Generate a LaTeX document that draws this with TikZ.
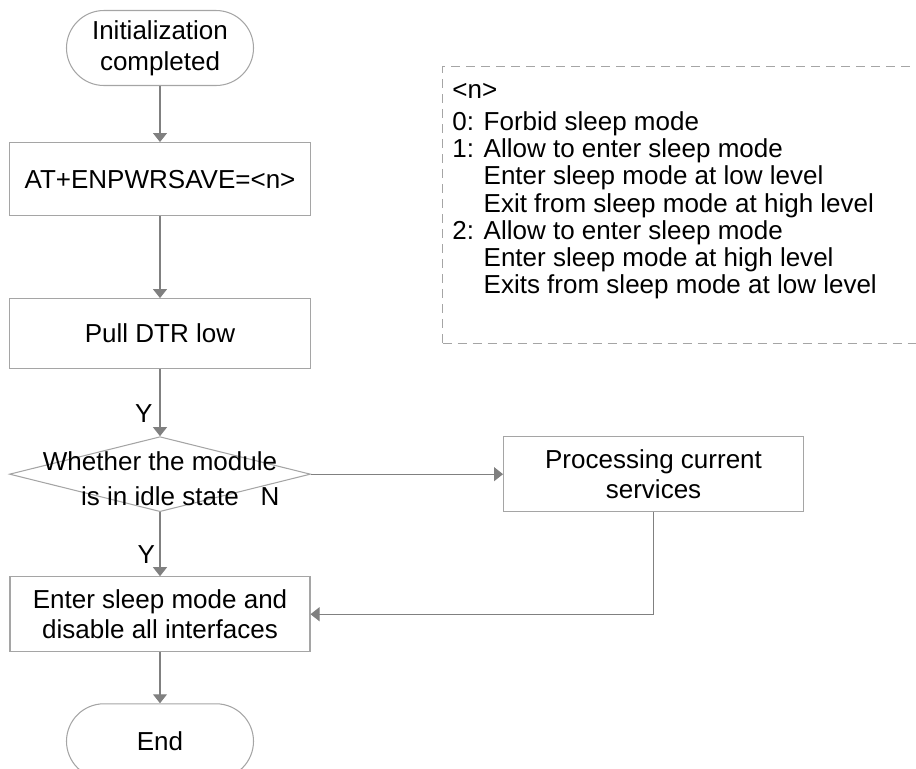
\documentclass[tikz,border=0pt]{standalone}
\usepackage{fontspec}
\setmainfont{Liberation Sans}
\usetikzlibrary{positioning, arrows.meta, shapes.geometric}
\definecolor{flowgray}{RGB}{128,128,128}
\definecolor{edgegray}{RGB}{165,165,165}

\begin{document}
\begin{tikzpicture}[
    font=\fontsize{14.8pt}{17.6pt}\selectfont,
    box/.style={draw=edgegray, line width=0.6pt, rectangle,
                minimum width=6.02cm, minimum height=1.46cm, align=center},
    term/.style={box, rounded corners=0.75cm,
                 minimum width=3.74cm, minimum height=1.5cm},
    decision/.style={draw=edgegray, line width=0.6pt, diamond, inner sep=0pt,
                     minimum width=6.02cm, minimum height=1.5cm},
    arrow/.style={-{Triangle[width=0.28cm, length=0.18cm]}, flowgray, line width=0.6pt},
    yn/.style={text=black, inner sep=4pt},
    note/.style={draw=edgegray, line width=0.6pt, dash pattern=on 0.18cm off 0.12cm},
    notetext/.style={align=left, inner sep=0pt,
                     font=\fontsize{14.8pt}{15.4pt}\selectfont}
]
\useasboundingbox (0,0) rectangle (18.32,-15.38);
% Main flow
\node[term] (start) at (3.2,-0.96) {Initialization\\completed};
\node[box, below=1.12cm of start] (atcmd) {AT+ENPWRSAVE=<n>};
\node[box, below=1.64cm of atcmd, minimum height=1.4cm] (pull) {Pull DTR low};
\node[decision, below=1.34cm of pull] (decide) {};
\node[align=center, font=\fontsize{14.8pt}{19.9pt}\selectfont] (decidetxt)
      at ([yshift=-0.1cm]decide) {Whether the module\\is in idle state\hspace{0.3cm}};
\node[box, below=1.28cm of decide, minimum width=6cm, minimum height=1.5cm] (sleep)
      {Enter sleep mode and\\disable all interfaces};
\node[term, below=1.02cm of sleep] (finish) {End};
% Right branch
\node[box, right=3.84cm of decide, minimum width=6cm, minimum height=1.5cm] (busy)
      {Processing current\\services};
\draw[arrow] (start) -- (atcmd);
\draw[arrow] (atcmd) -- (pull);
\draw[arrow] (pull) -- node[yn, pos=0.66, left] (yes1) {Y} (decide);
\draw[arrow] (decide) -- node[yn, pos=0.66, left, inner sep=2.5pt] (yes2) {Y} (sleep);
\draw[arrow] (sleep) -- (finish);
\draw[arrow] (decide) -- (busy);
\node[yn] (nolabel) at ([xshift=-0.82cm, yshift=-0.45cm]decide.east) {N};
\draw[arrow] (busy.south) |- (sleep.east);
% Parameter note
\node[note, anchor=north west, minimum width=10cm, minimum height=5.54cm] (note)
      at (8.84,-1.32) {};
\node[notetext, anchor=north west] (notetxt)
      at ([xshift=0.2cm, yshift=-0.34cm]note.north west)
      {<n>\\[3pt]
       0: Forbid sleep mode\\
       1: Allow to enter sleep mode\\
       \hphantom{1: }Enter sleep mode at low level\\
       \hphantom{1: }Exit from sleep mode at high level\\
       2: Allow to enter sleep mode\\
       \hphantom{1: }Enter sleep mode at high level\\
       \hphantom{1: }Exits from sleep mode at low level};
\end{tikzpicture}
\end{document}
